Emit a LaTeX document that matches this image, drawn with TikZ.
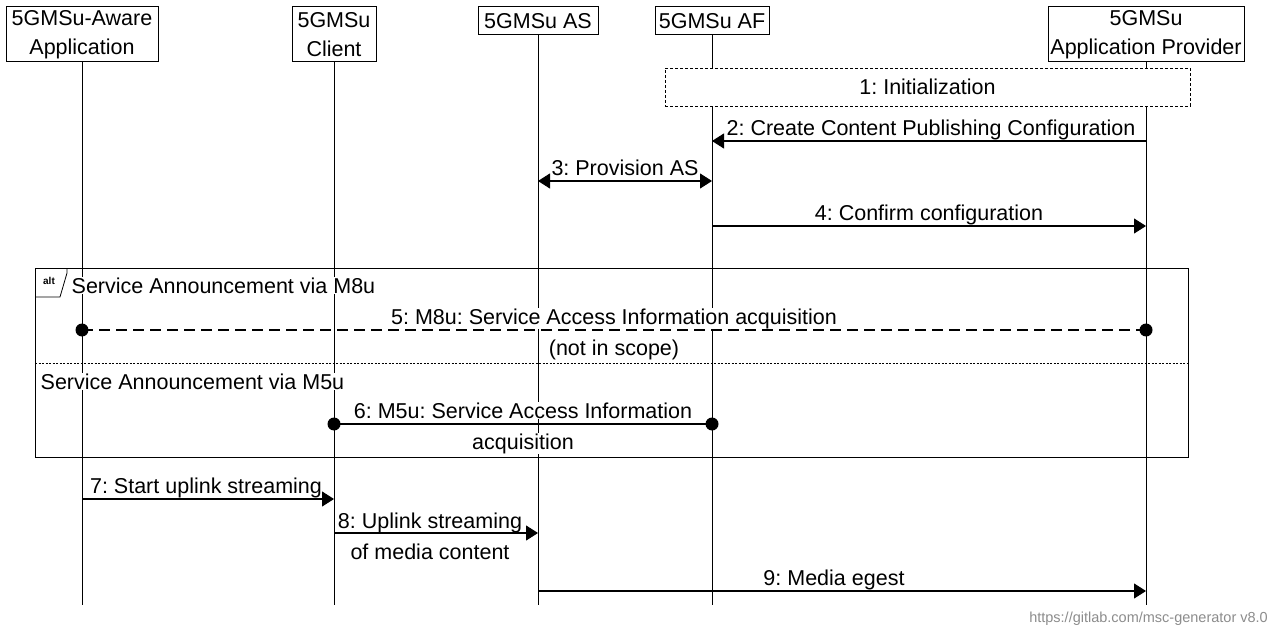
\documentclass[tikz,border=0pt]{standalone}
\usepackage{fontspec}
\setmainfont{Liberation Sans}
\usetikzlibrary{arrows.meta}
\frenchspacing
\begin{document}
\begin{tikzpicture}[x=1pt,y=-1pt,
  txt/.style={font=\fontsize{21.5}{29}\selectfont},
  lbl/.style={txt, inner sep=0.5pt, fill=white},
  head/.style={draw, line width=1pt, txt, align=center, inner sep=0pt, fill=white},
  life/.style={line width=1pt},
  msg/.style={line width=1.1pt, -{Triangle[length=12pt,width=15pt]}},
  bimsg/.style={line width=1.1pt, {Triangle[length=12pt,width=15pt]}-{Triangle[length=12pt,width=15pt]}},
  dotmsg/.style={line width=1.1pt},
  dot/.style={circle, fill=black, inner sep=0pt, minimum size=13pt},
  frame/.style={draw, line width=1pt},
  initbox/.style={draw, line width=0.9pt, dash pattern=on 3pt off 2pt, fill=white, txt},
  sep/.style={line width=0.8pt, dash pattern=on 2pt off 1.5pt},
  wm/.style={font=\fontsize{14.5}{16}\selectfont, text=black!45, inner sep=0pt}
]
\useasboundingbox (0,0) rectangle (1273,628);

% header boxes
\node[head, minimum width=152pt, minimum height=55pt] (app) at (82,34.5) {5GMSu-Aware\\Application};
\node[head, minimum width=84pt, minimum height=55pt] (cli) at (334,34.5) {5GMSu\\Client};
\node[head, minimum width=120pt, minimum height=28pt] (as) at (538,21) {5GMSu AS};
\node[head, minimum width=114pt, minimum height=28pt] (af) at (712,21) {5GMSu AF};
\node[head, minimum width=196pt, minimum height=55pt] (ap) at (1146,34.5) {5GMSu\\Application Provider};

% lifeline ends
\coordinate (appE) at (82,605);
\coordinate (cliE) at (334,605);
\coordinate (asE) at (538,605);
\coordinate (afE) at (712,605);
\coordinate (apE) at (1146,605);
\draw[life] (app.south) -- (appE);
\draw[life] (cli.south) -- (cliE);
\draw[life] (as.south) -- (asE);
\draw[life] (af.south) -- (afE);
\draw[life] (ap.south) -- (apE);

% 1: Initialization
\node[initbox, minimum width=525pt, minimum height=38pt, inner sep=0pt] (init) at (927.5,87) {1: Initialization};

% alt frame
\coordinate (altTL) at (35,268);
\coordinate (altBR) at (1188,457);
\draw[frame] (altTL) rectangle (altBR);
\coordinate (tagA) at (67,268);
\coordinate (tagB) at (67,273);
\coordinate (tagC) at (60,297);
\coordinate (tagD) at (35,297);
\draw[line width=0.8pt] (tagA) -- (tagB) -- (tagC) -- (tagD);
\node[font=\fontsize{10}{11}\selectfont\bfseries, inner sep=0pt] (alttag) at (49,281) {alt};
\coordinate (sepL) at (35,363);
\coordinate (sepR) at (1188,363);
\draw[sep] (sepL) -- (sepR);

% labels
\node[lbl, anchor=base west] (altt1) at (71,293) {Service Announcement via M8u};
\node[lbl, anchor=base west] (altt2) at (40,389) {Service Announcement via M5u};
\node[lbl, anchor=base] (l2) at (931,136) {2: Create Content Publishing Configuration};
\node[lbl, anchor=base] (l3) at (625,176) {3: Provision AS};
\node[lbl, anchor=base] (l4) at (929,221) {4: Confirm configuration};
\node[lbl, anchor=base] (l5) at (614,324) {5: M8u: Service Access Information acquisition};
\node[lbl, anchor=base] (l5b) at (614,355) {(not in scope)};
\node[lbl, anchor=base] (l6) at (523,418) {6: M5u: Service Access Information};
\node[lbl, anchor=base] (l6b) at (523,449) {acquisition};
\node[lbl, anchor=base] (l7) at (206,493) {7: Start uplink streaming};
\node[lbl, anchor=base] (l8) at (430,528) {8: Uplink streaming};
\node[lbl, anchor=base] (l8b) at (430,559) {of media content};
\node[lbl, anchor=base] (l9) at (834,585) {9: Media egest};

% message end points
\coordinate (m2a) at (1146,141); \coordinate (m2b) at (712,141);
\coordinate (m3a) at (538,181);  \coordinate (m3b) at (712,181);
\coordinate (m4a) at (712,226);  \coordinate (m4b) at (1146,226);
\coordinate (m5a) at (82,330);   \coordinate (m5b) at (1146,330);
\coordinate (m6a) at (334,424);  \coordinate (m6b) at (712,424);
\coordinate (m7a) at (82,499);   \coordinate (m7b) at (334,499);
\coordinate (m8a) at (334,533);  \coordinate (m8b) at (538,533);
\coordinate (m9a) at (538,591);  \coordinate (m9b) at (1146,591);

\draw[msg] (m2a) -- (m2b);
\draw[bimsg] (m3a) -- (m3b);
\draw[msg] (m4a) -- (m4b);
\draw[dotmsg, dash pattern=on 11pt off 6pt] (m5a) -- (m5b);
\node[dot] (d5a) at (m5a) {};
\node[dot] (d5b) at (m5b) {};
\draw[dotmsg] (m6a) -- (m6b);
\node[dot] (d6a) at (m6a) {};
\node[dot] (d6b) at (m6b) {};
\draw[msg] (m7a) -- (m7b);
\draw[msg] (m8a) -- (m8b);
\draw[msg] (m9a) -- (m9b);

\node[wm, anchor=base east] (wmark) at (1268,622) {https://gitlab.com/msc-generator v8.0};
\end{tikzpicture}
\end{document}
